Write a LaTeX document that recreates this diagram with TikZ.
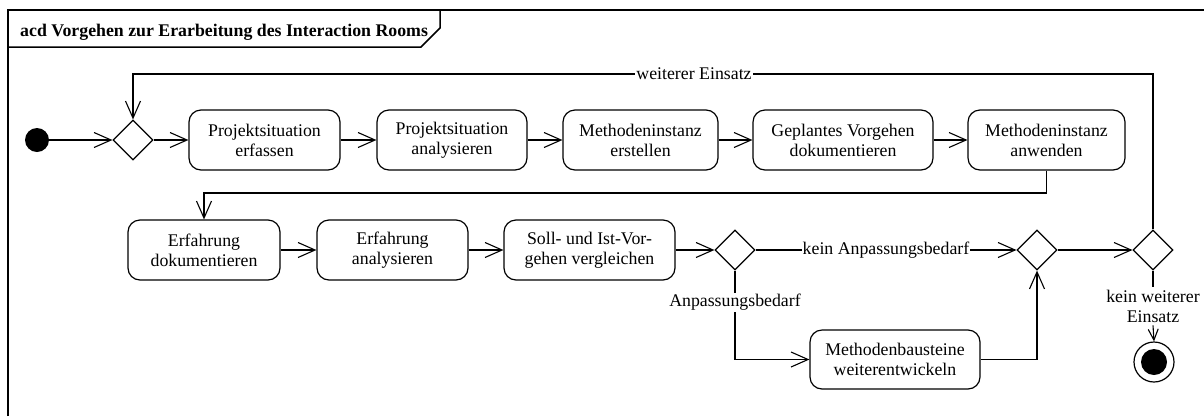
\documentclass[tikz,border=0pt]{standalone}
\usepackage{fontspec}
\setmainfont{Liberation Serif}
\usetikzlibrary{shapes.geometric,arrows.meta}
\begin{document}
\begin{tikzpicture}[x=1pt,y=-1pt,
  every node/.style={font=\fontsize{17.8}{20}\selectfont},
  action/.style={draw,rounded corners=12pt,line width=1.2pt,minimum height=60pt,align=center,inner sep=0pt},
  decision/.style={draw,diamond,line width=1.2pt,minimum width=40pt,minimum height=40pt,inner sep=0pt},
  flow/.style={line width=1.1pt,-{Straight Barb[length=17pt,width=15pt]}},
  shortflow/.style={line width=1.1pt,-{Straight Barb[length=11pt,width=10pt]}},
  plain/.style={line width=1.1pt},
  guard/.style={fill=white,inner sep=1pt},
  framed/.style={line width=1.5pt}]
\useasboundingbox (0,0) rectangle (1204,416);

% activity frame and its name tab
\draw[framed] (8,416) -- (8,10) -- (1204,10);
\draw[framed] (8,47) -- (421,47) -- (440,28) -- (440,10);
\node[anchor=base west,inner sep=0pt,font=\fontsize{17.8}{20}\selectfont\bfseries] (title) at (20,36)
  {acd Vorgehen zur Erarbeitung des Interaction Rooms};

% first row
\node[circle,fill,minimum size=24pt,inner sep=0pt] (start) at (37,140) {};
\node[decision] (d1) at (133,140) {};
\node[action,minimum width=151pt] (a1) at (264.5,140) {Projektsituation\\erfassen};
\node[action,minimum width=150pt] (a2) at (452,140) {Projektsituation\\analysieren};
\node[action,minimum width=155pt] (a3) at (640.5,140) {Methodeninstanz\\erstellen};
\node[action,minimum width=180pt] (a4) at (843,140) {Geplantes Vorgehen\\dokumentieren};
\node[action,minimum width=157pt] (a5) at (1046.5,140) {Methodeninstanz\\anwenden};

% second row
\node[action,minimum width=152pt] (a6) at (204,250) {Erfahrung\\dokumentieren};
\node[action,minimum width=151pt] (a7) at (392.5,250) {Erfahrung\\analysieren};
\node[action,minimum width=171pt] (a8) at (589.5,250) {Soll- und Ist-Vor-\\gehen vergleichen};
\node[decision] (d2) at (735,250) {};
\node[decision] (d3) at (1037,250) {};
\node[decision] (dend) at (1153,250) {};
\node[action,minimum width=170pt,minimum height=59pt] (a9) at (895,359.5) {Methodenbausteine\\weiterentwickeln};

% end of the activity
\node[align=center,inner sep=3pt] (stop) at (1153,306) {kein weiterer\\Einsatz};
\node[circle,draw,line width=1.2pt,minimum size=40pt,inner sep=0pt] (final) at (1154,362) {};
\fill (final.center) circle (13);

% bend points
\coordinate (turnR) at (1046.5,193);
\coordinate (turnL) at (204,193);
\coordinate (loopR) at (1153,74);
\coordinate (loopL) at (133,74);

% control flows
\draw[flow] (start) -- (d1);
\draw[flow] (d1) -- (a1);
\draw[flow] (a1) -- (a2);
\draw[flow] (a2) -- (a3);
\draw[flow] (a3) -- (a4);
\draw[flow] (a4) -- (a5);
\draw[flow] (a5.south) -- (turnR) -- (turnL) -- (a6.north);
\draw[flow] (a6) -- (a7);
\draw[flow] (a7) -- (a8);
\draw[flow] (a8) -- (d2);
\draw[flow] (d2) -- node[guard] {kein Anpassungsbedarf} (d3);
\draw[flow] (d2.south) -- node[guard,pos=0.36] {Anpassungsbedarf} (d2.south |- a9.west) -- (a9.west);
\draw[flow] (a9.east) -| (d3.south);
\draw[flow] (d3) -- (dend);
\draw[flow] (dend.north) -- (loopR) -- node[guard,pos=0.45] {weiterer Einsatz} (loopL) -- (d1.north);
\draw[plain] (dend.south) -- (stop.north);
\draw[shortflow] (stop.south) -- (final.north);
\end{tikzpicture}
\end{document}
